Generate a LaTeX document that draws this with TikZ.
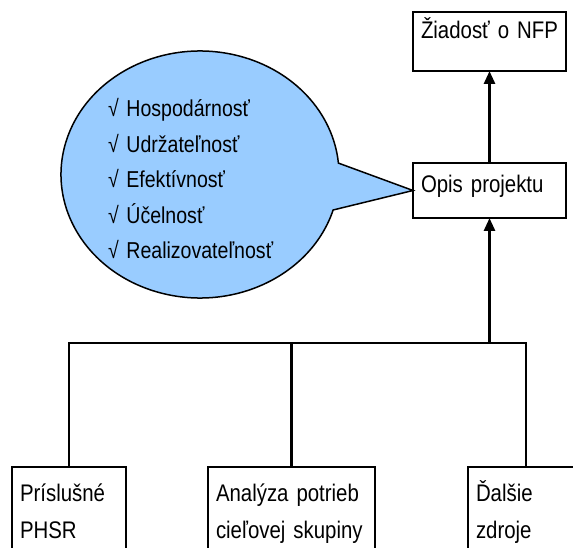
\documentclass[tikz,border=0pt]{standalone}
\usepackage{fontspec}
\setmainfont{Liberation Sans}[FakeStretch=0.85]
\usetikzlibrary{arrows.meta}
\definecolor{bubblefill}{HTML}{99CCFF}
\begin{document}
\begin{tikzpicture}[x=1pt,y=-1pt,
  every node/.style={inner sep=0pt, outer sep=0pt},
  boxnode/.style={draw, line width=1.8pt, inner xsep=8pt, inner ysep=0pt,
    align=left, font=\fontsize{24}{37}\selectfont},
  buslink/.style={line width=2.4pt},
  uparrow/.style={line width=2.8pt, -{Triangle[length=13pt,width=11pt]}},
  bubble/.style={draw, line width=1.5pt, fill=bubblefill},
  listtext/.style={align=left, font=\fontsize{23}{35.5}\selectfont}]
\useasboundingbox (0,0) rectangle (573,548);
\clip (0,0) rectangle (573,548);

% top row: request box and project description box
\node[boxnode, anchor=north west, text width=137pt, text height=27pt, text depth=32pt]
  (ziadost) at (413,12) {\mbox{Žiadosť o NFP}};
\node[boxnode, anchor=north west, text width=137pt, text height=30pt, text depth=25pt]
  (opis) at (413,163) {Opis projektu};

% input boxes along the bottom edge
\node[boxnode, anchor=north west, text width=98pt, text height=34pt, text depth=120pt]
  (prisl) at (12,467) {Príslušné\\PHSR};
\node[boxnode, anchor=north west, text width=151pt, text height=34pt, text depth=120pt]
  (analyza) at (208,467) {Analýza potrieb\\cieľovej skupiny};
\node[boxnode, anchor=north west, text width=100pt, text height=34pt, text depth=120pt]
  (dalsie) at (468,467) {Ďalšie\\zdroje};

% speech bubble pointing at the project description
\draw[bubble] (200,174.5) ++(16.7:139 and 123.5)
  arc[start angle=16.7, end angle=354.7, x radius=139, y radius=123.5]
  -- (opis.west) -- cycle;
\node[listtext, anchor=base west, text width=220pt] (kriteria) at (108,117)
  {√ Hospodárnosť\\√ Udržateľnosť\\√ Efektívnosť\\√ Účelnosť\\√ Realizovateľnosť};

% collecting bus and arrows
\coordinate (bus) at (489,343);
\draw[buslink] (prisl.north) |- (dalsie.north |- bus) -- (dalsie.north);
\draw[buslink] (analyza.north) -- (analyza.north |- bus);
\draw[uparrow] (opis.south |- bus) -- (opis.south);
\draw[uparrow] (opis.north) -- (ziadost.south);
\end{tikzpicture}
\end{document}
